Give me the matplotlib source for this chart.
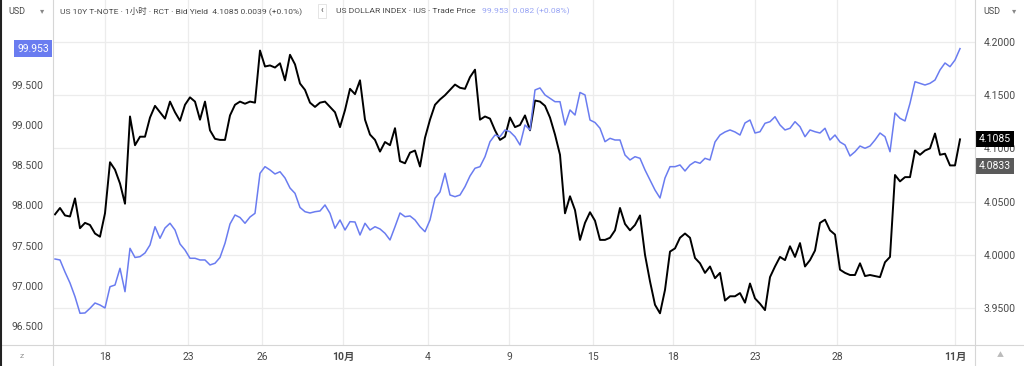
import matplotlib
matplotlib.use('Agg')
import matplotlib.pyplot as plt
import matplotlib.transforms as mtransforms
from matplotlib.lines import Line2D
from matplotlib.ticker import FormatStrFormatter
import numpy as np

plt.rcParams['font.family'] = ['Roboto', 'Noto Sans CJK SC', 'DejaVu Sans']

# US 10Y T-NOTE bid yield, hourly samples (right axis)
yield_10y = [
    4.038, 4.044, 4.037, 4.036, 4.053, 4.025, 4.030, 4.028, 4.020, 4.017,
    4.039, 4.087, 4.080, 4.067, 4.048, 4.130, 4.103, 4.111, 4.111, 4.129,
    4.140, 4.134, 4.128, 4.144, 4.134, 4.126, 4.141, 4.148, 4.144, 4.127,
    4.144, 4.117, 4.109, 4.108, 4.108, 4.131, 4.141, 4.144, 4.142, 4.144,
    4.143, 4.192, 4.177, 4.178, 4.176, 4.180, 4.164,
    4.188, 4.179, 4.161, 4.155, 4.143, 4.139, 4.143, 4.144, 4.139, 4.134,
    4.120, 4.136, 4.156, 4.151, 4.164, 4.127, 4.113, 4.108, 4.097, 4.106,
    4.103, 4.119, 4.088, 4.086, 4.096, 4.098, 4.083, 4.110, 4.127, 4.141,
    4.146, 4.150, 4.155, 4.160, 4.157, 4.156, 4.167, 4.174, 4.127, 4.130,
    4.128, 4.117, 4.108, 4.111, 4.129, 4.120, 4.122,
    4.131, 4.117, 4.145, 4.144, 4.140, 4.129, 4.113, 4.094, 4.039, 4.055,
    4.042, 4.014, 4.030, 4.040, 4.032, 4.014, 4.014, 4.016, 4.023, 4.044,
    4.029, 4.023, 4.028, 4.037, 4.000, 3.975, 3.953, 3.945, 3.967, 4.003,
    4.006, 4.016, 4.020, 4.016, 3.997, 3.992, 3.983, 3.989, 3.978, 3.983,
    3.957, 3.961, 3.961, 3.964, 3.955, 3.973, 3.959,
    3.954, 3.948, 3.979, 3.989, 3.998, 3.995, 4.008, 3.998, 4.011, 3.989,
    3.995, 4.004, 4.030, 4.033, 4.023, 4.019, 3.986, 3.983, 3.981, 3.981,
    3.992, 3.980, 3.981, 3.980, 3.979, 3.993, 3.998, 4.075, 4.069, 4.073,
    4.073, 4.098, 4.094, 4.098, 4.100, 4.114, 4.094, 4.095, 4.084, 4.084,
    4.1085,
]

# US dollar index trade price, same samples (left axis)
dollar_index = [
    97.333, 97.321, 97.171, 97.034, 96.864, 96.657, 96.661, 96.719, 96.785, 96.760,
    96.723, 96.988, 97.009, 97.217, 96.926, 97.466, 97.352, 97.362, 97.408, 97.508,
    97.735, 97.591, 97.719, 97.778, 97.694, 97.520, 97.445, 97.342, 97.342, 97.321,
    97.321, 97.259, 97.280, 97.352, 97.529, 97.769, 97.881, 97.850, 97.778, 97.856,
    97.902, 98.400, 98.483, 98.442, 98.392, 98.420, 98.342,
    98.217, 98.151, 97.975, 97.922, 97.906, 97.922, 97.931, 98.006, 97.902, 97.716,
    97.819, 97.694, 97.798, 97.794, 97.632, 97.778, 97.694, 97.735, 97.707, 97.653,
    97.570, 97.735, 97.906, 97.860, 97.869, 97.819, 97.735, 97.673, 97.819, 98.089,
    98.168, 98.400, 98.130, 98.109, 98.130, 98.234, 98.367, 98.463, 98.483, 98.607,
    98.794, 98.877, 98.856, 98.940, 98.918, 98.856, 98.753,
    99.002, 98.940, 99.438, 99.463, 99.376, 99.334, 99.292, 99.292, 99.002, 99.189,
    99.126, 99.407, 99.376, 99.064, 99.033, 98.961, 98.794, 98.836, 98.815, 98.815,
    98.628, 98.566, 98.607, 98.587, 98.442, 98.317, 98.192, 98.093, 98.342, 98.483,
    98.483, 98.504, 98.429, 98.504, 98.545, 98.525, 98.587, 98.566, 98.790, 98.877,
    98.915, 98.940, 98.915, 98.877, 99.027, 99.064, 98.902,
    98.918, 99.023, 99.043, 99.105, 99.002, 98.940, 98.961, 99.043, 98.981, 98.856,
    98.940, 98.918, 98.902, 98.961, 98.815, 98.877, 98.790, 98.753, 98.616, 98.669,
    98.740, 98.712, 98.740, 98.815, 98.902, 98.856, 98.669, 99.151, 99.085, 99.052,
    99.272, 99.541, 99.521, 99.500, 99.521, 99.562, 99.687, 99.774, 99.728, 99.811,
    99.953,
]

# date labels and the sample index where each one falls
date_labels = ['18', '23', '26', '10月', '4', '9', '15', '18', '23', '28', '11月']
date_pos = [10, 26.6, 41.4, 57.6, 74.6, 90.8, 107.6, 123.6, 140, 156.4, 180]

yield_ticks = [3.95, 4.00, 4.05, 4.10, 4.15, 4.20]
dxy_ticks = [96.5, 97.0, 97.5, 98.0, 98.5, 99.0, 99.5]

GRID = '#ececec'
SEP = '#d6d6d6'
TXT = '#4a4a4a'
BLUE = '#6a7cf0'

x = np.arange(len(yield_10y))

fig = plt.figure(figsize=(10.24, 3.66), dpi=100)
ax = fig.add_axes([53 / 1024, 21 / 366, 922 / 1024, 345 / 366])
dx = ax.twinx()

ax.set_xlim(-0.4, 184)
ax.set_ylim(3.9152, 4.2395)
dx.set_ylim(96.262, 100.5585)

ax.set_xticks(date_pos)
ax.set_xticklabels(date_labels)
for lab in ax.get_xticklabels():
    if '月' in lab.get_text():
        lab.set_fontweight('bold')
ax.set_yticks(yield_ticks)
ax.yaxis.set_major_formatter(FormatStrFormatter('%.4f'))
ax.yaxis.tick_right()
dx.set_yticks(dxy_ticks)
dx.yaxis.set_major_formatter(FormatStrFormatter('%.3f'))
dx.yaxis.tick_left()

ax.tick_params(axis='both', length=0, labelsize=7.5, colors=TXT)
ax.tick_params(axis='y', pad=6)
ax.tick_params(axis='x', pad=5)
dx.tick_params(axis='y', length=0, labelsize=7.5, colors=TXT, pad=7)

ax.grid(True, color=GRID, lw=0.9)
ax.set_axisbelow(True)
for a in (ax, dx):
    for s in a.spines.values():
        s.set_visible(False)

ax.plot(x, yield_10y, color='black', lw=1.4, zorder=3)
dx.plot(x, dollar_index, color=BLUE, lw=1.1, zorder=3)

# last value tags
tr_r = mtransforms.blended_transform_factory(ax.transAxes, ax.transData)
ax.text(1.004, yield_10y[-1], '4.1085', transform=tr_r, ha='left', va='center',
        fontsize=7.5, color='white', clip_on=False, zorder=10,
        bbox=dict(boxstyle='square,pad=0.3', fc='black', ec='none'))
ax.text(1.004, 4.0833, '4.0833', transform=tr_r, ha='left', va='center',
        fontsize=7.5, color='white', clip_on=False, zorder=10,
        bbox=dict(boxstyle='square,pad=0.3', fc='#5a5a5a', ec='none'))
tr_l = mtransforms.blended_transform_factory(dx.transAxes, dx.transData)
dx.text(-0.004, dollar_index[-1], '99.953', transform=tr_l, ha='right', va='center',
        fontsize=7.5, color='white', clip_on=False, zorder=10,
        bbox=dict(boxstyle='square,pad=0.3', fc=BLUE, ec='none'))

# frame lines
fig.add_artist(Line2D([0, 1], [21 / 366, 21 / 366], color=SEP, lw=0.8))
fig.add_artist(Line2D([53 / 1024, 53 / 1024], [0, 1], color=SEP, lw=0.8))
fig.add_artist(Line2D([975 / 1024, 975 / 1024], [0, 1], color=SEP, lw=0.8))
fig.add_artist(Line2D([0.001, 0.001], [0, 1], color='#222222', lw=1.5))

# header
hy = 1 - 11 / 366
fig.text(8 / 1024, hy, 'USD', fontsize=6.5, color=TXT, va='center')
fig.text(40 / 1024, hy, '▾', fontsize=6, color='#888888', va='center')
fig.text(60 / 1024, hy,
         'US 10Y T-NOTE · 1小时 · RCT · Bid Yield  4.1085 0.0039 (+0.10%)',
         fontsize=6.1, color=TXT, va='center')
fig.text(322 / 1024, hy, '‹', fontsize=6.5, color=TXT, va='center', ha='center',
         bbox=dict(boxstyle='square,pad=0.3', fc='white', ec='#e0e0e0', lw=0.6))
fig.text(336 / 1024, hy, 'US DOLLAR INDEX · IUS · Trade Price',
         fontsize=6.1, color=TXT, va='center')
fig.text(482 / 1024, hy, '99.953  0.082 (+0.08%)',
         fontsize=6.1, color='#98a4f4', va='center')
fig.text(983 / 1024, hy, 'USD', fontsize=6.5, color=TXT, va='center')
fig.text(1012 / 1024, hy, '▾', fontsize=6, color='#888888', va='center')
fig.text(22 / 1024, 1 - 356 / 366, 'z', fontsize=6, color='#999999', va='center', ha='center')
fig.text(1000 / 1024, 1 - 356 / 366, '▲', fontsize=5, color='#bbbbbb', va='center', ha='center')

fig.savefig('out.png', dpi=100, facecolor='white')
